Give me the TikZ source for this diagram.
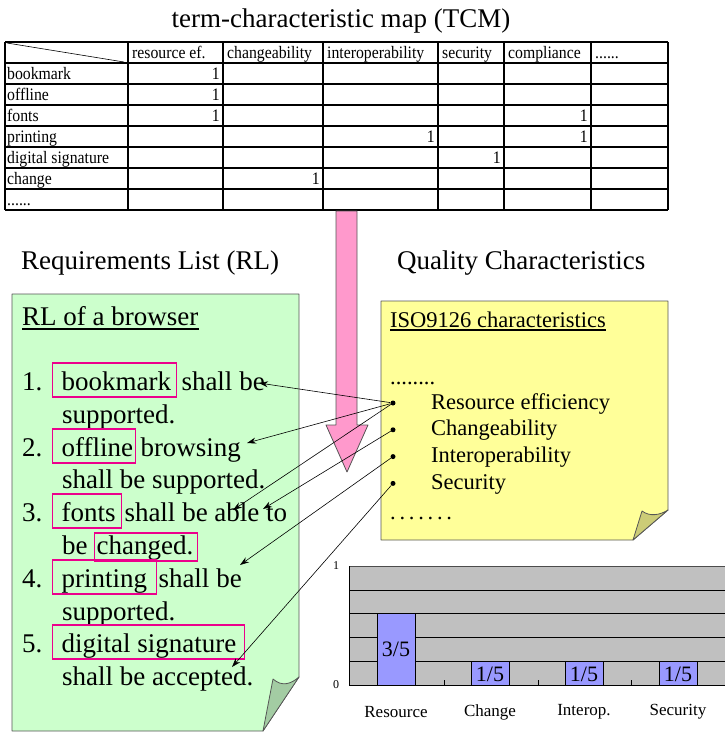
\documentclass[tikz,border=0pt]{standalone}
\usepackage{fontspec}
\setmainfont[Ligatures=CommonOff]{Liberation Serif}
\newfontfamily\tcmfont[Ligatures=CommonOff, FakeStretch=0.9]{Liberation Serif}
\usepackage{tikz}
\usetikzlibrary{arrows.meta}
\definecolor{notegreen}{HTML}{CCFFCC}
\definecolor{flapgreen}{HTML}{A3CCA3}
\definecolor{noteyellow}{HTML}{FFFF99}
\definecolor{flapyellow}{HTML}{CCCC77}
\definecolor{arrowpink}{HTML}{FF99CC}
\definecolor{plotgray}{HTML}{C0C0C0}
\definecolor{barblue}{HTML}{9999FF}
\definecolor{edgegray}{HTML}{555555}
\tikzset{
  tcmtext/.style={font=\tcmfont\fontsize{17.5}{20}\selectfont, inner sep=0pt, anchor=base west},
  headtext/.style={font=\fontsize{27}{32}\selectfont, inner sep=0pt, anchor=base west},
  rltext/.style={font=\fontsize{27}{32}\selectfont, inner sep=0pt, anchor=base west},
  isotext/.style={font=\fontsize{22.5}{27}\selectfont, inner sep=0pt, anchor=base west},
  termbox/.style={rltext, draw=magenta, line width=1.3pt, text height=27pt, text depth=7pt},
  bulletdot/.style={circle, fill=black, inner sep=0pt, minimum size=5pt},
  maplink/.style={->, line width=0.6pt},
  barbox/.style={fill=barblue, draw=black, line width=0.6pt},
  notebody/.style={draw=edgegray, line width=0.8pt, line join=round},
}
\newcommand{\termword}[3][9pt]{\makebox[#2][l]{\hspace*{#1}#3}}
\newcommand{\sixdots}{......}

\begin{document}
\begin{tikzpicture} [x=1pt, y=-1pt, >={Stealth[length=9pt,width=6pt]}]
\useasboundingbox (0,0) rectangle (725,740);
% term-characteristic map
\node[font=\fontsize{27}{32}\selectfont, inner sep=0pt, anchor=base] (title) at (341,27) {term-characteristic map (TCM)};
\foreach \y in {42,63,84,105,126,147,168,189,210} {
 \draw[black, line width=1.5pt] (5,\y) -- (668,\y);
};
\foreach \x in {5,128,223,323,438,504,591,668} {
 \draw[black, line width=1.5pt] (\x,42) -- (\x,210);
};
\draw[black, line width=0.6pt] (7,43) -- (124,62);
\foreach \x/\t [count=\i] in {128/resource ef., 223/changeability, 323/interoperability, 438/security, 504/compliance, 591/\sixdots} {
 \node[tcmtext] (char\i) at ({\x+4},58) {\t};
};
\foreach \t [count=\i] in {bookmark, offline, fonts, printing, digital signature, change, \sixdots} {
 \node[tcmtext] (term\i) at (7,{58+21*\i}) {\t};
};
\foreach \r/\x in {1/223, 2/223, 3/223, 3/591, 4/438, 4/591, 5/504, 6/323} {
 \node[tcmtext, anchor=base east] (one\r-\x) at ({\x-3},{58+21*\r}) {1};
};
\draw[edgegray, fill=arrowpink, line width=0.8pt, line join=round] (336,211) -- (357,211) -- (357,425) -- (368,425) -- (347,472) -- (326,425) -- (336,425) -- cycle;

\node[headtext] (rlhead) at (21,269) {Requirements List (RL)};
\node[headtext] (qchead) at (397,269) {Quality Characteristics};

% requirements list
\draw[notebody, fill=notegreen] (12,294) -- (299,294) -- (299,677) -- (263,731) -- (12,731) -- cycle;
\draw[notebody, fill=flapgreen] (263,731) -- (273,679) .. controls (282,687) and (291,684) .. (299,677) -- cycle;
\node[rltext] (rltitle) at (22,325) {RL of a browser};
\draw[line width=1.5pt] ([yshift=-4pt]rltitle.base west) -- ([yshift=-4pt]rltitle.base east);
\node[rltext] (n1) at (22,390) {1.};
\node[termbox] (w1) at (52,390) {\termword{124pt}{bookmark}};
\node[rltext] (r1) at ([xshift=4pt]w1.base east) {shall be};
\node[rltext] (l2) at (62,423) {supported.};
\node[rltext] (n2) at (22,456) {2.};
\node[termbox] (w2) at (52,456) {\termword{83pt}{offline}};
\node[rltext] (r2) at ([xshift=4pt]w2.base east) {browsing};
\node[rltext] (l4) at (62,488) {shall be supported.};
\node[rltext] (n3) at (22,521) {3.};
\node[termbox] (w3) at (52,521) {\termword{69pt}{fonts}};
\node[rltext] (r3) at ([xshift=2pt]w3.base east) {shall be able to};
\node[rltext] (l6) at (62,554) {be};
\node[termbox, text height=21pt] (w4) at (94,554) {\termword[2pt]{103pt}{changed.}};
\node[rltext] (n4) at (22,587) {4.};
\node[termbox] (w5) at (52,587) {\termword{104pt}{printing}};
\node[rltext] (r5) at ([xshift=1pt]w5.base east) {shall be};
\node[rltext] (l8) at (62,620) {supported.};
\node[rltext] (n5) at (22,652) {5.};
\node[termbox] (w6) at (52,652) {\termword{192pt}{digital signature}};
\node[rltext] (l10) at (62,685) {shall be accepted.};

% quality characteristics
\draw[notebody, fill=noteyellow] (381,301) -- (668,301) -- (668,510) -- (633,540) -- (381,540) -- cycle;
\draw[notebody, fill=flapyellow] (633,540) -- (642,511) .. controls (650,517) and (660,515) .. (668,510) -- cycle;
\node[isotext] (isotitle) at (390,327) {ISO9126 characteristics};
\draw[line width=1.2pt] ([yshift=-3pt]isotitle.base west) -- ([yshift=-3pt]isotitle.base east);
\node[isotext] (isodots) at (390,384) {........};
\foreach \t [count=\i] in {Resource efficiency, Changeability, Interoperability, Security} {
 \node[bulletdot] (b\i) at (393,{403+26.8*(\i-1)}) {};
 \node[isotext] (c\i) at (431,{409+26.8*(\i-1)}) {\t};
};
\node[isotext] (isoend) at (390,519) {.\,.\,.\,.\,.\,.\,.};

% chart
\fill[plotgray] (349,566) rectangle (725,685);
\foreach \y in {590,613,637,661} {
 \draw[black, line width=0.6pt] (349,\y) -- (725,\y);
};
\draw[gray!60!black, line width=1pt] (349,566) -- (725,566);
\draw[black, line width=1pt] (349,566) -- (349,685) -- (725,685);
\foreach \x in {444,538,631} {
 \draw[black, line width=0.6pt] (\x,685) -- (\x,680);
};
\foreach \x/\h/\n [count=\i] in {396/3/Resource, 490/1/Change, 584/1/Interop., 678/1/Security} {
 \draw[barbox] ({\x-19},685) rectangle ({\x+19},{685-23.8*\h});
 \node[font=\fontsize{22}{26}\selectfont, inner sep=0pt] (frac\i) at (\x,{687-12.6*\h}) {\h/5};
 \node[font=\fontsize{17}{20}\selectfont, inner sep=0pt] (cat\i) at (\x,712) {\n};
};
\node[font=\fontsize{12}{14}\selectfont, inner sep=0pt] (ymax) at (336,566) {1};
\node[font=\fontsize{12}{14}\selectfont, inner sep=0pt] (ymin) at (336,685) {0};

% links from characteristics to terms
\coordinate (tbook) at (259,383);
\coordinate (toff) at (247,443);
\coordinate (tfont) at (233,510);
\coordinate (tchg) at (263,509);
\coordinate (tprint) at (240,565);
\coordinate (tsig) at (232,667);
\draw[maplink] (b1) -- (tbook);
\draw[maplink] (b1) -- (toff);
\draw[maplink] (b1) -- (tfont);
\draw[maplink] (b2) -- (tchg);
\draw[maplink] (b3) -- (tprint);
\draw[maplink] (b4) -- (tsig);
\end{tikzpicture}
\end{document}
